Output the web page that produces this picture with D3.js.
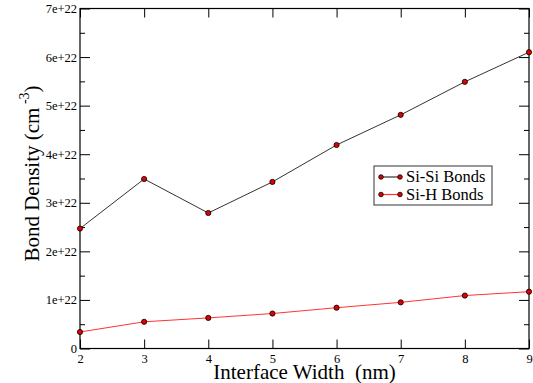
<!DOCTYPE html>
<html><head><meta charset="utf-8">
<script src="https://cdn.jsdelivr.net/npm/d3@7"></script>
<style>body{margin:0;background:#fff;} svg{display:block;} .tk text{font-family:"Liberation Serif",serif !important;font-size:12.5px !important;}</style>
</head><body>
<svg id="c" width="533" height="383"></svg>
<script>
const widths = [2, 3, 4, 5, 6, 7, 8, 9];
const siSi = [2.47e22, 3.49e22, 2.79e22, 3.43e22, 4.19e22, 4.81e22, 5.49e22, 6.10e22];
const siH = [0.34e22, 0.55e22, 0.63e22, 0.72e22, 0.84e22, 0.95e22, 1.09e22, 1.17e22];
const xTicks = [2, 3, 4, 5, 6, 7, 8, 9];
const yTicks = [0, 1e22, 2e22, 3e22, 4e22, 5e22, 6e22, 7e22];
const yTickLabels = ["0", "1e+22", "2e+22", "3e+22", "4e+22", "5e+22", "6e+22", "7e+22"];
const yMinor = [0.5e22, 1.5e22, 2.5e22, 3.5e22, 4.5e22, 5.5e22, 6.5e22];
const seriesNames = ["Si-Si Bonds", "Si-H Bonds"];

const svg = d3.select("#c");
const L = 80, R = 529, T = 8.5, B = 348.5;
const x = d3.scaleLinear().domain([2, 9]).range([L, R]);
const y = d3.scaleLinear().domain([0, 7e22]).range([B, T]);
const font = "Liberation Serif, serif";

const series = [
  {name: seriesNames[0], vals: siSi, line: "#333"},
  {name: seriesNames[1], vals: siH, line: "#ff3333"}
];

// lines
series.forEach(s => {
  const ln = d3.line().x((d, i) => x(widths[i])).y(d => y(d));
  svg.append("path").attr("d", ln(s.vals)).attr("fill", "none")
    .attr("stroke", s.line).attr("stroke-width", 1);
});

// frame
svg.append("rect").attr("x", L).attr("y", T).attr("width", R - L).attr("height", B - T)
  .attr("fill", "none").attr("stroke", "#000").attr("stroke-width", 1.2);

// axes using d3 axis, ticks inward
const tickFmt = (d) => yTickLabels[yTicks.indexOf(d)];
const gB = svg.append("g").attr("transform", `translate(0,${B})`)
  .call(d3.axisBottom(x).tickValues(xTicks).tickFormat(d3.format("d")).tickSizeInner(-9).tickSizeOuter(0).tickPadding(6));
const gT = svg.append("g").attr("transform", `translate(0,${T})`)
  .call(d3.axisTop(x).tickValues(xTicks).tickFormat("").tickSizeInner(-9).tickSizeOuter(0));
const gL = svg.append("g").attr("transform", `translate(${L},0)`)
  .call(d3.axisLeft(y).tickValues(yTicks).tickFormat(tickFmt).tickSizeInner(-10).tickSizeOuter(0).tickPadding(3));
const gR = svg.append("g").attr("transform", `translate(${R},0)`)
  .call(d3.axisRight(y).tickValues(yTicks).tickFormat("").tickSizeInner(-10).tickSizeOuter(0));
const gLm = svg.append("g").attr("transform", `translate(${L},0)`)
  .call(d3.axisLeft(y).tickValues(yMinor).tickFormat("").tickSizeInner(-5).tickSizeOuter(0));
const gRm = svg.append("g").attr("transform", `translate(${R},0)`)
  .call(d3.axisRight(y).tickValues(yMinor).tickFormat("").tickSizeInner(-5).tickSizeOuter(0));
[gB, gT, gL, gR, gLm, gRm].forEach(g => {
  g.select(".domain").remove();
  g.attr("class", "tk").attr("font-family", font).attr("font-size", 12.5);
  g.selectAll("line").attr("stroke", "#000").attr("stroke-width", 1);
  g.selectAll("text").attr("fill", "#000");
});

// markers
series.forEach(s => {
  svg.append("g").selectAll("circle").data(s.vals).join("circle")
    .attr("cx", (d, i) => x(widths[i])).attr("cy", d => y(d)).attr("r", 2.6)
    .attr("fill", "#e00000").attr("stroke", "#000").attr("stroke-width", 0.8);
});

// axis titles
svg.append("text").attr("x", (L + R) / 2).attr("y", 379).attr("text-anchor", "middle")
  .attr("font-family", font).attr("font-size", 21).attr("fill", "#000")
  .attr("xml:space", "preserve").text("Interface Width  (nm)");

const yt = svg.append("text").attr("transform", `translate(39,${(T + B) / 2 - 5}) rotate(-90)`)
  .attr("text-anchor", "middle").attr("font-family", font).attr("font-size", 21).attr("fill", "#000");
yt.append("tspan").text("Bond Density (cm");
yt.append("tspan").attr("font-size", 14).attr("dy", -10).text(" -3");
yt.append("tspan").attr("dy", 10).text(")");

// legend
const lg = svg.append("g");
lg.append("rect").attr("x", 374).attr("y", 166).attr("width", 118).attr("height", 39)
  .attr("fill", "#fff").attr("stroke", "#333").attr("stroke-width", 1);
series.forEach((s, i) => {
  const yy = 177 + i * 17.5;
  lg.append("line").attr("x1", 381).attr("x2", 400).attr("y1", yy).attr("y2", yy)
    .attr("stroke", s.line).attr("stroke-width", 1.2);
  [381, 400].forEach(cx => lg.append("circle").attr("cx", cx).attr("cy", yy).attr("r", 2.3)
    .attr("fill", "#e00000").attr("stroke", "#000").attr("stroke-width", 0.8));
  lg.append("text").attr("x", 406).attr("y", yy + 5).attr("font-family", font)
    .attr("font-size", 16.5).attr("fill", "#000").text(s.name);
});
</script>
</body></html>
